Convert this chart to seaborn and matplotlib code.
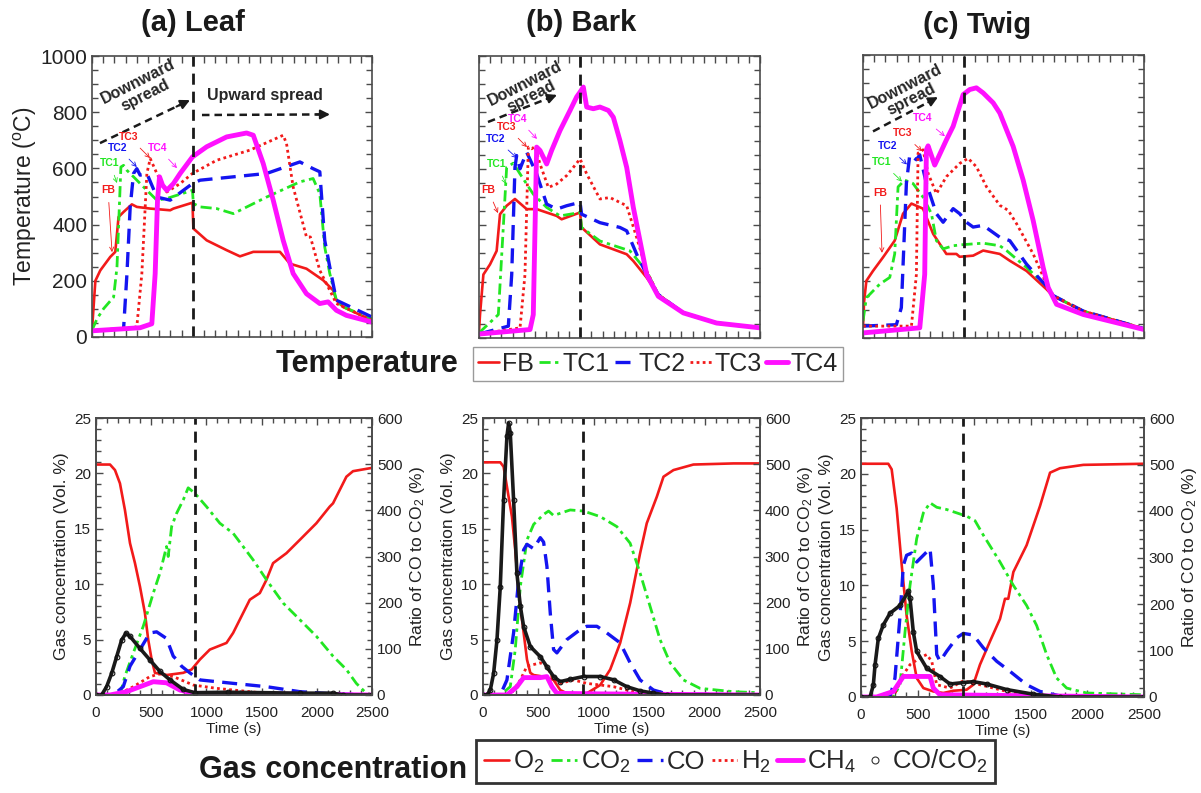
import matplotlib
matplotlib.use("Agg")
import matplotlib.pyplot as plt
import seaborn as sns
from matplotlib.ticker import MultipleLocator
from matplotlib.lines import Line2D

# ---------------- Temperature data (time s, temperature C) ----------------
leaf_fb_t = [0, 30, 74, 163, 208, 237, 282, 356, 400, 520, 698, 727, 897, 905, 1024, 1202, 1321, 1440, 1678, 1767, 1915, 2064, 2153, 2182, 2242, 2500]
leaf_fb_T = [24, 200, 237, 285, 303, 427, 445, 472, 463, 457, 451, 457, 478, 386, 344, 309, 287, 303, 303, 261, 243, 202, 166, 131, 107, 59]
leaf_tc1_t = [0, 45, 104, 193, 223, 258, 282, 312, 371, 490, 579, 668, 897, 905, 965, 1113, 1262, 1559, 1856, 1974, 2034, 2078, 2123, 2182, 2242, 2500]
leaf_tc1_T = [24, 65, 101, 142, 249, 605, 611, 593, 570, 522, 487, 493, 522, 475, 463, 457, 439, 498, 552, 564, 510, 320, 226, 131, 107, 65]
leaf_tc2_t = [0, 282, 312, 341, 371, 400, 430, 490, 579, 698, 897, 965, 1262, 1559, 1856, 1974, 2034, 2078, 2123, 2182, 2500]
leaf_tc2_T = [22, 30, 225, 463, 582, 599, 576, 582, 498, 487, 546, 558, 570, 582, 623, 599, 588, 344, 249, 131, 71]
leaf_tc3_t = [0, 400, 445, 490, 520, 579, 668, 787, 897, 1113, 1410, 1707, 1737, 1796, 1915, 1950, 2034, 2182, 2500]
leaf_tc3_T = [22, 36, 225, 582, 635, 582, 516, 546, 582, 629, 665, 718, 688, 534, 356, 356, 237, 119, 59]
leaf_tc4_t = [0, 430, 534, 564, 585, 603, 630, 668, 727, 787, 897, 1024, 1202, 1380, 1440, 1529, 1618, 1707, 1796, 1915, 2034, 2108, 2182, 2271, 2500]
leaf_tc4_T = [22, 33, 47, 225, 487, 570, 540, 522, 546, 582, 641, 677, 712, 726, 718, 617, 487, 344, 226, 154, 119, 125, 95, 77, 53]

bark_fb_t = [0, 9, 39, 98, 157, 187, 246, 320, 424, 513, 691, 735, 899, 913, 1076, 1314, 1373, 1492, 1595, 1818, 2114, 2500]
bark_fb_T = [24, 83, 225, 261, 309, 439, 469, 493, 457, 457, 433, 421, 445, 392, 332, 297, 273, 214, 154, 89, 53, 36]
bark_tc1_t = [0, 172, 216, 246, 305, 365, 483, 602, 721, 899, 913, 1076, 1343, 1492, 1595, 1818, 2114, 2500]
bark_tc1_T = [18, 83, 392, 605, 620, 582, 510, 463, 433, 445, 392, 344, 309, 237, 154, 89, 53, 36]
bark_tc2_t = [0, 261, 291, 320, 335, 365, 424, 513, 602, 691, 780, 899, 913, 1076, 1254, 1314, 1403, 1492, 1595, 1818, 2114, 2500]
bark_tc2_T = [14, 42, 225, 605, 647, 600, 659, 582, 475, 457, 469, 481, 439, 409, 392, 380, 297, 225, 154, 89, 53, 36]
bark_tc3_t = [0, 365, 409, 439, 469, 498, 543, 617, 691, 780, 839, 899, 958, 1076, 1165, 1314, 1403, 1492, 1595, 1818, 2114, 2500]
bark_tc3_T = [14, 36, 225, 677, 671, 679, 617, 534, 546, 576, 605, 635, 582, 493, 498, 469, 356, 237, 154, 89, 53, 36]
bark_tc4_t = [0, 454, 483, 513, 543, 602, 646, 721, 810, 869, 899, 928, 958, 1017, 1076, 1151, 1195, 1254, 1314, 1373, 1492, 1595, 1818, 2114, 2500]
bark_tc4_T = [14, 30, 83, 677, 665, 617, 665, 736, 807, 855, 872, 890, 819, 813, 819, 807, 783, 700, 605, 463, 225, 148, 89, 53, 36]

twig_fb_t = [0, 10, 30, 89, 178, 282, 356, 431, 534, 624, 742, 831, 860, 980, 1069, 1217, 1306, 1455, 1633, 1692, 1960, 2500]
twig_fb_T = [40, 130, 202, 237, 285, 344, 439, 475, 457, 368, 297, 297, 287, 291, 309, 297, 273, 237, 172, 148, 95, 33]
twig_tc1_t = [0, 30, 148, 238, 282, 312, 371, 445, 534, 609, 653, 713, 802, 891, 1069, 1217, 1277, 1455, 1633, 1692, 1960, 2500]
twig_tc1_T = [60, 142, 190, 214, 297, 534, 558, 546, 498, 439, 344, 315, 326, 330, 335, 326, 309, 249, 184, 150, 95, 33]
twig_tc2_t = [0, 297, 341, 386, 416, 475, 505, 564, 653, 713, 802, 861, 920, 980, 1069, 1217, 1306, 1455, 1574, 1633, 1692, 1960, 2500]
twig_tc2_T = [42, 47, 107, 546, 647, 630, 647, 546, 439, 409, 457, 439, 409, 392, 398, 356, 344, 261, 208, 184, 150, 95, 33]
twig_tc3_t = [0, 431, 475, 490, 534, 579, 653, 742, 861, 935, 1009, 1099, 1217, 1292, 1366, 1514, 1633, 1692, 1960, 2500]
twig_tc3_T = [42, 42, 225, 653, 665, 582, 510, 570, 617, 635, 605, 534, 469, 451, 404, 297, 190, 150, 95, 33]
twig_tc4_t = [0, 505, 549, 564, 579, 638, 742, 802, 891, 950, 1009, 1069, 1158, 1217, 1336, 1425, 1514, 1603, 1648, 1722, 1960, 2500]
twig_tc4_T = [18, 36, 225, 665, 679, 611, 700, 748, 860, 878, 884, 866, 831, 795, 677, 558, 415, 249, 178, 119, 83, 30]

# ---------------- Gas data (time s, concentration vol %, ratio %) ----------------
leaf_o2_t = [0, 127, 172, 217, 262, 308, 353, 398, 443, 473, 504, 534, 639, 790, 866, 941, 1031, 1182, 1242, 1393, 1484, 1544, 1604, 1725, 1846, 1996, 2117, 2147, 2268, 2328, 2500]
leaf_o2_c = [20.8, 20.8, 20.3, 19.1, 16.7, 13.7, 11.9, 9.8, 7.4, 5.0, 3.2, 2.0, 1.8, 2.0, 2.3, 3.2, 4.1, 4.7, 5.6, 8.6, 9.2, 10.4, 11.9, 12.8, 14.0, 15.5, 17.0, 17.3, 19.7, 20.2, 20.5]
leaf_co2_t = [0, 217, 262, 338, 428, 519, 579, 639, 654, 685, 730, 790, 835, 896, 1001, 1122, 1242, 1423, 1544, 1695, 1846, 1996, 2147, 2268, 2358, 2434, 2500]
leaf_co2_c = [0, 0, 1.7, 3.8, 6.2, 9.2, 11.0, 13.4, 12.5, 15.2, 16.4, 17.6, 18.7, 18.2, 17.0, 15.5, 14.6, 12.2, 10.4, 8.3, 6.8, 5.3, 3.5, 2.3, 1.05, 0.3, 0]
leaf_co_t = [0, 157, 247, 308, 398, 488, 549, 639, 700, 730, 775, 850, 941, 1242, 1544, 1846, 2147, 2500]
leaf_co_c = [0, 0, 0.75, 2.6, 4.1, 5.6, 5.7, 5.1, 3.5, 3.2, 2.6, 2.0, 1.36, 1.05, 0.75, 0.3, 0.1, 0]
leaf_h2_t = [0, 187, 338, 488, 579, 700, 881, 1092, 1544, 2500]
leaf_h2_c = [0, 0, 0.75, 1.66, 1.9, 1.66, 0.9, 0.6, 0.15, 0]
leaf_ch4_t = [0, 127, 277, 398, 519, 639, 760, 881, 2500]
leaf_ch4_c = [0, 0, 0.3, 0.75, 1.2, 1.1, 0.45, 0.15, 0]
leaf_ratio_t = [0, 51, 96, 142, 187, 232, 271, 308, 398, 488, 579, 669, 790, 896, 1200, 1846, 2147, 2238, 2500]
leaf_ratio_r = [0, 0, 18, 47, 83, 119, 134, 127, 101, 76, 51, 33, 12, 5, 6, 4, 4, 0, 0]

bark_o2_t = [0, 156, 186, 216, 261, 291, 322, 367, 397, 427, 457, 547, 637, 697, 757, 937, 1058, 1148, 1238, 1328, 1418, 1478, 1569, 1629, 1719, 1899, 2260, 2500]
bark_o2_c = [21.0, 21.0, 20.6, 18.8, 16.1, 13.1, 9.2, 5.6, 3.2, 2.0, 1.8, 1.66, 1.36, 0.45, 0.15, 0.15, 0.9, 2.3, 4.7, 8.3, 12.8, 15.5, 17.9, 19.7, 20.3, 20.8, 20.9, 20.9]
bark_co2_t = [0, 156, 246, 291, 337, 397, 457, 547, 592, 637, 697, 787, 908, 1058, 1208, 1328, 1418, 1508, 1598, 1689, 1809, 1959, 2260, 2500]
bark_co2_c = [0, 0, 0.75, 4.1, 9.8, 14.0, 15.4, 16.3, 16.6, 16.2, 16.4, 16.7, 16.6, 16.1, 15.2, 13.7, 11.0, 8.0, 5.0, 2.9, 1.36, 0.6, 0.3, 0.2]
bark_co_t = [0, 156, 216, 276, 322, 367, 397, 457, 517, 547, 577, 607, 637, 667, 757, 877, 937, 1028, 1118, 1238, 1328, 1418, 1538, 1659, 2500]
bark_co_c = [0, 0, 1.36, 5.6, 10.4, 13.1, 13.6, 13.2, 14.2, 13.8, 11.6, 7.4, 4.1, 3.8, 5.0, 5.9, 6.2, 6.2, 5.6, 4.7, 2.9, 1.36, 0.45, 0.1, 0]
bark_h2_t = [0, 246, 337, 397, 517, 577, 637, 697, 817, 937, 1058, 1178, 1358, 1538, 2500]
bark_h2_c = [0, 0, 1.36, 2.6, 2.9, 2.6, 1.36, 1.05, 1.36, 1.05, 0.9, 0.75, 0.3, 0.1, 0]
bark_ch4_t = [0, 216, 306, 367, 517, 577, 622, 667, 1058, 2500]
bark_ch4_c = [0, 0, 0.75, 1.57, 1.57, 1.66, 0.75, 0.15, 0.1, 0]
bark_ratio_t = [0, 36, 66, 96, 126, 156, 186, 216, 231, 246, 276, 306, 337, 367, 427, 517, 577, 637, 697, 787, 908, 1058, 1178, 1298, 1418, 1538, 1659, 2500]
bark_ratio_r = [0, 0, 11, 47, 119, 235, 423, 560, 589, 568, 423, 264, 192, 148, 105, 83, 61, 40, 29, 34, 40, 40, 33, 18, 9, 4, 0, 0]

twig_o2_t = [0, 241, 271, 315, 359, 403, 448, 492, 551, 639, 727, 816, 933, 992, 1051, 1140, 1228, 1272, 1301, 1346, 1463, 1581, 1670, 1758, 1964, 2500]
twig_o2_c = [20.9, 20.9, 20.4, 16.9, 11.9, 7.3, 4.1, 1.7, 0.8, 0.5, 0.36, 0.56, 0.65, 1.1, 2.9, 5.0, 7.0, 8.8, 8.8, 11.2, 13.6, 17.1, 20.1, 20.5, 20.8, 20.9]
twig_co2_t = [0, 286, 345, 389, 433, 492, 551, 610, 669, 757, 845, 933, 1007, 1081, 1228, 1346, 1463, 1552, 1640, 1728, 1817, 1993, 2500]
twig_co2_c = [0, 0, 1.1, 5.85, 10.0, 14.2, 16.5, 17.4, 17.0, 16.8, 16.5, 16.2, 15.8, 14.5, 12.1, 10.0, 8.2, 6.4, 3.8, 1.7, 0.8, 0.36, 0.2]
twig_co_t = [0, 256, 300, 345, 374, 403, 448, 492, 551, 610, 639, 669, 698, 757, 845, 904, 992, 1081, 1199, 1316, 1463, 1581, 1758, 2500]
twig_co_c = [0, 0, 1.7, 7.3, 11.8, 12.7, 12.9, 12.1, 12.7, 13.3, 10.0, 3.8, 3.2, 4.1, 5.3, 5.7, 5.55, 4.4, 3.2, 2.3, 1.1, 0.5, 0.1, 0]
twig_h2_t = [0, 286, 374, 433, 521, 580, 625, 669, 786, 904, 992, 1110, 1287, 1522, 2500]
twig_h2_c = [0, 0, 2.0, 2.9, 3.5, 3.8, 3.2, 1.1, 0.8, 1.45, 1.25, 0.95, 0.5, 0.15, 0]
twig_ch4_t = [0, 138, 286, 374, 610, 639, 698, 2500]
twig_ch4_c = [0, 0, 0.5, 1.84, 1.84, 0.8, 0.2, 0]
twig_ratio_t = [0, 80, 109, 124, 153, 197, 256, 345, 418, 433, 462, 492, 580, 698, 786, 904, 992, 1110, 1287, 1522, 1758, 2500]
twig_ratio_r = [0, 0, 26, 69, 126, 155, 180, 197, 227, 212, 140, 98, 62, 44, 28, 31, 33, 28, 16, 6, 0, 0]

panel_titles = ["(a) Leaf", "(b) Bark", "(c) Twig"]
temp_labels = ["FB", "TC1", "TC2", "TC3", "TC4"]
gas_labels = ["O$_2$", "CO$_2$", "CO", "H$_2$", "CH$_4$", "CO/CO$_2$"]
spread_time = 900

# ---------------- style ----------------
sns.set_theme(style="ticks")
plt.rcParams["font.family"] = ["Liberation Sans", "DejaVu Sans"]
plt.rcParams["mathtext.fontset"] = "custom"
plt.rcParams["mathtext.rm"] = "Liberation Sans"
plt.rcParams["mathtext.it"] = "Liberation Sans:italic"
plt.rcParams["mathtext.bf"] = "Liberation Sans:bold"

RED = "#f21a1a"
GREEN = "#22e622"
BLUE = "#1414f0"
MAG = "#ff10ff"
SPINE = "#4a4a4a"
TXT = "#222222"

STY = [
    dict(color=RED, linewidth=1.9, linestyle="-"),
    dict(color=GREEN, linewidth=2.0, linestyle=(0, (4, 1.6, 1.2, 1.6))),
    dict(color=BLUE, linewidth=2.4, linestyle=(0, (4.5, 2.5))),
    dict(color=RED, linewidth=2.0, linestyle=(0, (1, 1.2))),
    dict(color=MAG, linewidth=3.5, linestyle="-"),
]

W, H = 1201, 793
fig = plt.figure(figsize=(W / 100, H / 100), dpi=100)


def rect(l, r, t, b):
    return [l / W, 1 - b / H, (r - l) / W, (b - t) / H]


def line(ax, x, y, **kw):
    sns.lineplot(x=x, y=y, ax=ax, estimator=None, sort=False, legend=False, **kw)


def style_axes(ax):
    for s in ax.spines.values():
        s.set_color(SPINE)
        s.set_linewidth(1.2)


temp_sets = [
    [(leaf_fb_t, leaf_fb_T), (leaf_tc1_t, leaf_tc1_T), (leaf_tc2_t, leaf_tc2_T), (leaf_tc3_t, leaf_tc3_T), (leaf_tc4_t, leaf_tc4_T)],
    [(bark_fb_t, bark_fb_T), (bark_tc1_t, bark_tc1_T), (bark_tc2_t, bark_tc2_T), (bark_tc3_t, bark_tc3_T), (bark_tc4_t, bark_tc4_T)],
    [(twig_fb_t, twig_fb_T), (twig_tc1_t, twig_tc1_T), (twig_tc2_t, twig_tc2_T), (twig_tc3_t, twig_tc3_T), (twig_tc4_t, twig_tc4_T)],
]
gas_sets = [
    [(leaf_o2_t, leaf_o2_c), (leaf_co2_t, leaf_co2_c), (leaf_co_t, leaf_co_c), (leaf_h2_t, leaf_h2_c), (leaf_ch4_t, leaf_ch4_c), (leaf_ratio_t, leaf_ratio_r)],
    [(bark_o2_t, bark_o2_c), (bark_co2_t, bark_co2_c), (bark_co_t, bark_co_c), (bark_h2_t, bark_h2_c), (bark_ch4_t, bark_ch4_c), (bark_ratio_t, bark_ratio_r)],
    [(twig_o2_t, twig_o2_c), (twig_co2_t, twig_co2_c), (twig_co_t, twig_co_c), (twig_h2_t, twig_h2_c), (twig_ch4_t, twig_ch4_c), (twig_ratio_t, twig_ratio_r)],
]

top_rects = [rect(92, 372, 56, 337), rect(479, 760, 56, 338), rect(863, 1144, 55, 338)]
bot_rects = [rect(96, 372, 418, 695), rect(483, 760, 418, 695), rect(861, 1144, 418, 697)]

# annotation positions (time, temperature): label position and arrow target
ann = [
    {"FB": ((143, 523), (179, 302)), "TC1": ((161, 619), (223, 548)), "TC2": ((232, 673), (400, 605)),
     "TC3": ((330, 712), (518, 637)), "TC4": ((589, 673), (759, 601))},
    {"FB": ((80, 525), (169, 443)), "TC1": ((160, 617), (240, 546)), "TC2": ((151, 706), (338, 638)),
     "TC3": ((249, 748), (427, 677)), "TC4": ((347, 777), (516, 706))},
    {"FB": ((151, 514), (169, 301)), "TC1": ((169, 621), (347, 553)), "TC2": ((222, 677), (391, 613)),
     "TC3": ((356, 723), (525, 660)), "TC4": ((534, 777), (729, 713))},
]
down_text = [(445, 885), (440, 880), (400, 865)]
down_arrow = [((71, 690), (875, 843)), ((80, 766), (694, 862)), ((89, 730), (667, 851))]
title_pos = [(193, 23), (581, 23), (977, 25)]
label_colors = {"FB": RED, "TC1": GREEN, "TC2": BLUE, "TC3": RED, "TC4": MAG}

for i in range(3):
    ax = fig.add_axes(top_rects[i])
    for (t, T), st in zip(temp_sets[i], STY):
        line(ax, t, T, **st)
    ax.axvline(spread_time, color="k", linewidth=2, linestyle=(0, (4, 2.5)))
    ax.set_xlim(0, 2500)
    ax.set_ylim(0, 1000)
    ax.xaxis.set_major_locator(MultipleLocator(100))
    ax.yaxis.set_major_locator(MultipleLocator(200))
    ax.yaxis.set_minor_locator(MultipleLocator(50))
    ax.tick_params(which="both", direction="in", top=True, right=True, labelbottom=False,
                   color=SPINE, labelcolor=TXT, labelsize=15)
    ax.tick_params(which="major", length=5, width=1)
    ax.tick_params(which="minor", length=4, width=1)
    ax.set_xlabel("")
    if i == 0:
        ax.set_ylabel("Temperature ($^\\mathrm{o}$C)", fontsize=16.5, color=TXT, labelpad=1)
    else:
        ax.tick_params(labelleft=False)
        ax.set_ylabel("")
    style_axes(ax)
    for lab, (txy, axy) in ann[i].items():
        ax.annotate(lab, xy=axy, xytext=txy, color=label_colors[lab], fontsize=7.5,
                    fontweight="bold", ha="center", va="center",
                    arrowprops=dict(arrowstyle="->", color=label_colors[lab], lw=0.6,
                                    shrinkA=3, shrinkB=0))
    # downward spread arrow and text
    (x0, y0), (x1, y1) = down_arrow[i]
    ax.plot([x0, x0 + 0.93 * (x1 - x0)], [y0, y0 + 0.93 * (y1 - y0)], color="k",
            linewidth=1.8, linestyle=(0, (3, 2)))
    ax.annotate("", xy=(x1, y1), xytext=(x0 + 0.85 * (x1 - x0), y0 + 0.85 * (y1 - y0)),
                arrowprops=dict(arrowstyle="-|>", color="k", lw=1.5, mutation_scale=14,
                                shrinkA=0, shrinkB=0))
    ax.text(*down_text[i], "Downward\nspread", rotation=27, ha="center", va="center",
            fontsize=11.5, fontweight="bold", linespacing=1.0, rotation_mode="anchor")
    if i == 0:
        ax.plot([982, 0.93 * 2125 + 0.07 * 982], [790, 792], color="k", linewidth=1.8,
                linestyle=(0, (3, 2)))
        ax.annotate("", xy=(2125, 792), xytext=(2000, 792),
                    arrowprops=dict(arrowstyle="-|>", color="k", lw=1.5, mutation_scale=14,
                                    shrinkA=0, shrinkB=0))
        ax.text(1545, 861, "Upward spread", ha="center", va="center", fontsize=11.5,
                fontweight="bold")
    fig.text(title_pos[i][0] / W, 1 - title_pos[i][1] / H, panel_titles[i], ha="center",
             va="center", fontsize=21, fontweight="bold", color="k")

for i in range(3):
    ax = fig.add_axes(bot_rects[i])
    for (t, c), st in zip(gas_sets[i][:5], STY):
        line(ax, t, c, **st)
    ax.axvline(spread_time, color="k", linewidth=2, linestyle=(0, (4, 2.5)))
    ax.set_xlim(0, 2500)
    ax.set_ylim(0, 25)
    ax.xaxis.set_major_locator(MultipleLocator(500))
    ax.xaxis.set_minor_locator(MultipleLocator(100))
    ax.yaxis.set_major_locator(MultipleLocator(5))
    ax.yaxis.set_minor_locator(MultipleLocator(1))
    ax.tick_params(which="both", direction="in", top=True, right=False, color=SPINE,
                   labelcolor=TXT, labelsize=11)
    ax.tick_params(axis="x", which="both", pad=8)
    ax.tick_params(which="major", length=5, width=1)
    ax.tick_params(which="minor", length=3.5, width=1)
    ax.set_xlabel("Time (s)", fontsize=11, color=TXT, labelpad=1)
    ax.set_ylabel("Gas concentration (Vol. %)", fontsize=12.5, color=TXT, labelpad=4)
    style_axes(ax)
    ax2 = ax.twinx()
    rt, rr = gas_sets[i][5]
    line(ax2, rt, rr, color="k", linewidth=2.6, marker="o", markersize=3.4,
         markerfacecolor="none", markeredgecolor="#111111", markeredgewidth=0.8)
    ax2.set_ylim(0, 600)
    ax2.yaxis.set_major_locator(MultipleLocator(100))
    ax2.yaxis.set_minor_locator(MultipleLocator(20))
    ax2.tick_params(which="both", direction="in", color=SPINE, labelcolor=TXT, labelsize=11)
    ax2.tick_params(which="major", length=5, width=1)
    ax2.tick_params(which="minor", length=3.5, width=1)
    ax2.set_ylabel("Ratio of CO to CO$_2$ (%)", fontsize=12.5, color=TXT, labelpad=4)
    ax2.set_xlabel("")
    style_axes(ax2)

# ---------------- legends ----------------
fig.text(458 / W, 1 - 364 / H, "Temperature", ha="right", va="center", fontsize=22,
         fontweight="bold", color="k")
t_handles = [Line2D([], [], **st) for st in STY]
leg1 = fig.legend(t_handles, temp_labels, loc="center left",
                  bbox_to_anchor=(473 / W, 1 - 364 / H), ncol=5, frameon=True,
                  fancybox=False, edgecolor="#9a9a9a", framealpha=1,
                  prop={"size": 18}, handlelength=0.85,
                  handletextpad=0.12, columnspacing=0.18, borderpad=0.2, borderaxespad=0)
leg1.get_frame().set_linewidth(1.0)

fig.text(467 / W, 1 - 770 / H, "Gas concentration", ha="right", va="center", fontsize=22,
         fontweight="bold", color="k")
g_handles = [Line2D([], [], **st) for st in STY] + [
    Line2D([], [], linestyle="none", marker="o", markersize=5, markerfacecolor="white",
           markeredgecolor="#333333", markeredgewidth=0.8)]
leg2 = fig.legend(g_handles, gas_labels, loc="upper left",
                  bbox_to_anchor=(476 / W, 1 - 740 / H), ncol=6, frameon=True,
                  fancybox=False, edgecolor="#333333", framealpha=1,
                  prop={"size": 18.5}, handlelength=1.0,
                  handletextpad=0.15, columnspacing=0.25, borderpad=0.3, borderaxespad=0)
leg2.get_frame().set_linewidth(2.0)

fig.savefig("out.png", dpi=100)
